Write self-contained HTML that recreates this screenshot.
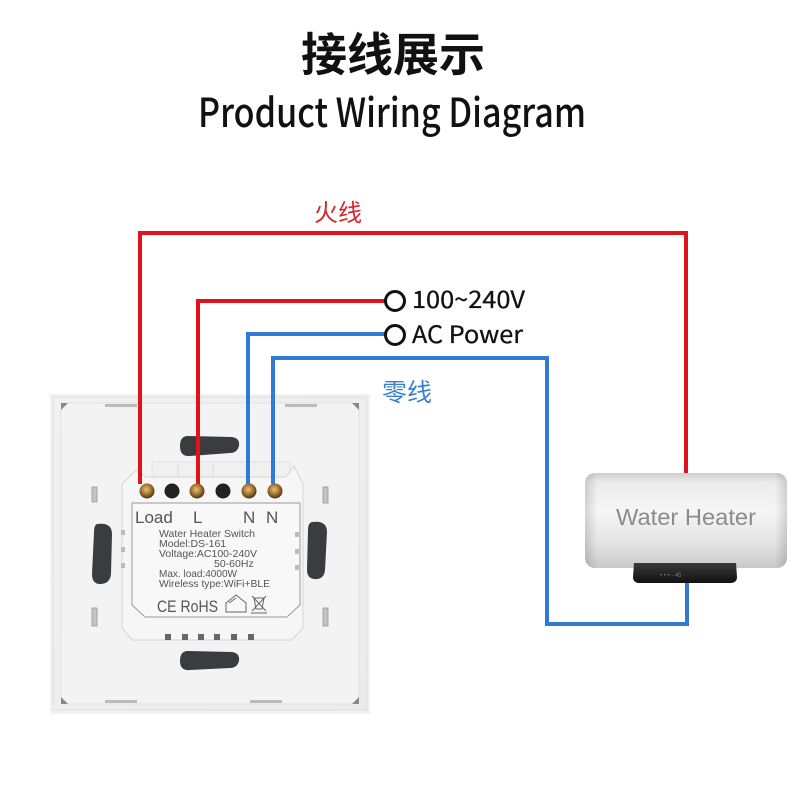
<!DOCTYPE html>
<html><head><meta charset="utf-8">
<style>
html,body{margin:0;padding:0;background:#fff;}
svg{display:block;}
</style></head>
<body>
<svg width="800" height="800" viewBox="0 0 800 800" xmlns="http://www.w3.org/2000/svg">
<defs>
  <linearGradient id="plate" x1="0" y1="0" x2="1" y2="1">
    <stop offset="0" stop-color="#f1f1f1"/>
    <stop offset="1" stop-color="#ebebeb"/>
  </linearGradient>
  <linearGradient id="heater" x1="0" y1="0" x2="0" y2="1">
    <stop offset="0" stop-color="#cfcfcf"/>
    <stop offset="0.1" stop-color="#ebebeb"/>
    <stop offset="0.4" stop-color="#f6f6f6"/>
    <stop offset="0.75" stop-color="#e2e2e2"/>
    <stop offset="1" stop-color="#c9c9c9"/>
  </linearGradient>
  <linearGradient id="heaterSide" x1="0" y1="0" x2="1" y2="0">
    <stop offset="0" stop-color="#000" stop-opacity="0.14"/>
    <stop offset="0.06" stop-color="#000" stop-opacity="0"/>
    <stop offset="0.94" stop-color="#000" stop-opacity="0"/>
    <stop offset="1" stop-color="#000" stop-opacity="0.14"/>
  </linearGradient>
  <radialGradient id="brass" cx="0.45" cy="0.4" r="0.6">
    <stop offset="0" stop-color="#e8c27a"/>
    <stop offset="0.6" stop-color="#9a6e2e"/>
    <stop offset="1" stop-color="#4a3214"/>
  </radialGradient>
  <linearGradient id="disp" x1="0" y1="0" x2="0" y2="1">
    <stop offset="0" stop-color="#3a3a3a"/>
    <stop offset="1" stop-color="#111"/>
  </linearGradient>
</defs>

<!-- Titles -->
<text x="393" y="71" text-anchor="middle" font-family="'Noto Sans CJK SC','WenQuanYi Zen Hei',sans-serif" font-weight="bold" font-size="46" fill="#111">接线展示</text>
<text x="198" y="127" font-family="'Noto Sans CJK SC','Liberation Sans',sans-serif" font-weight="500" font-size="40" fill="#111" textLength="388" lengthAdjust="spacingAndGlyphs">Product Wiring Diagram</text>

<!-- Switch plate -->
<rect x="50" y="394" width="320" height="320" fill="#e6e6e6" opacity="0.5"/>
<rect x="53" y="397" width="314" height="313" fill="url(#plate)" stroke="#dedede" stroke-width="1"/>
<rect x="61" y="403" width="298" height="301" rx="8" fill="#f3f3f3" stroke="#e2e2e2" stroke-width="1"/>
<!-- corner marks -->
<path d="M61,403 L68,403 L61,410 Z" fill="#888"/>
<path d="M359,403 L352,403 L359,410 Z" fill="#888"/>
<path d="M61,704 L68,704 L61,697 Z" fill="#888"/>
<path d="M359,704 L352,704 L359,697 Z" fill="#888"/>
<!-- edge marks -->
<rect x="105" y="404" width="32" height="3" fill="#bbb"/>
<rect x="285" y="404" width="32" height="3" fill="#bbb"/>
<rect x="105" y="700" width="32" height="3" fill="#bbb"/>
<rect x="250" y="700" width="32" height="3" fill="#bbb"/>
<rect x="92" y="487" width="5" height="15" fill="#c4c4c4" stroke="#999" stroke-width="0.8"/>
<rect x="92" y="608" width="5" height="18" fill="#c4c4c4" stroke="#999" stroke-width="0.8"/>
<rect x="323" y="487" width="5" height="16" fill="#c4c4c4" stroke="#999" stroke-width="0.8"/>
<rect x="323" y="608" width="5" height="18" fill="#c4c4c4" stroke="#999" stroke-width="0.8"/>
<!-- slots -->
<path d="M188,436 L232,437 Q240,438 239,446 Q237,453 230,453 L190,456 Q180,457 180,446 Q180,436 188,436 Z" fill="#3a3c3f"/>
<path d="M188,651 L232,652 Q240,653 239,661 Q237,668 230,668 L190,670 Q180,671 180,661 Q180,651 188,651 Z" fill="#3a3c3f"/>
<path d="M97,524 Q112,522 112,534 L111,574 Q110,584 100,584 Q92,584 92,574 L94,533 Q94,525 97,524 Z" fill="#3a3c3f"/>
<path d="M312,522 Q327,520 327,532 L325,570 Q324,580 314,579 Q307,578 307,570 L308,530 Q308,523 312,522 Z" fill="#3a3c3f"/>

<!-- Module -->
<rect x="152" y="462" width="138" height="20" fill="#f0f0f0" stroke="#ddd" stroke-width="0.8"/>
<line x1="178" y1="464" x2="178" y2="482" stroke="#ddd"/>
<line x1="213" y1="464" x2="213" y2="482" stroke="#ddd"/>
<line x1="246" y1="464" x2="246" y2="482" stroke="#ddd"/>
<path d="M122,484 L136,470 L146,477 L286,477 L294,466 L303,484 L303,628 L292,640 L132,640 L122,628 Z" fill="#f6f6f6" stroke="#d4d4d4" stroke-width="1"/>
<path d="M132,503 L300,503 L300,605 L287,617 L145,617 L132,605 Z" fill="#f8f8f8" stroke="#9a9a9a" stroke-width="1"/>
<!-- side vents -->
<rect x="121" y="530" width="4" height="5" fill="#bbb"/>
<rect x="121" y="547" width="4" height="5" fill="#bbb"/>
<rect x="121" y="563" width="4" height="5" fill="#bbb"/>
<rect x="295" y="532" width="4" height="5" fill="#bbb"/>
<rect x="295" y="549" width="4" height="5" fill="#bbb"/>
<rect x="295" y="565" width="4" height="5" fill="#bbb"/>
<!-- bottom vents -->
<rect x="165" y="634" width="6" height="6" fill="#666"/>
<rect x="182" y="634" width="6" height="6" fill="#666"/>
<rect x="198" y="634" width="6" height="6" fill="#666"/>
<rect x="214" y="634" width="6" height="6" fill="#666"/>
<rect x="231" y="634" width="6" height="6" fill="#666"/>
<rect x="248" y="634" width="6" height="6" fill="#666"/>

<!-- Wires -->
<g fill="none" stroke-width="4" stroke-linejoin="miter">
  <path d="M140,484 V233 H686 V474" stroke="#e0121b"/>
  <path d="M198,484 V301 H386" stroke="#e0121b"/>
  <path d="M248,484 V334 H386" stroke="#2e7ad6"/>
  <path d="M273,484 V358 H547 V624 H687 V583" stroke="#2e7ad6"/>
</g>

<!-- Terminals -->
<circle cx="147" cy="491" r="7.5" fill="url(#brass)"/>
<circle cx="172" cy="491" r="7.5" fill="#222"/>
<circle cx="197" cy="491" r="7.5" fill="url(#brass)"/>
<circle cx="223" cy="491" r="7.5" fill="#222"/>
<circle cx="249" cy="491" r="7.5" fill="url(#brass)"/>
<circle cx="275" cy="491" r="7.5" fill="url(#brass)"/>

<!-- Module labels -->
<g font-family="'Liberation Sans',sans-serif" fill="#555">
  <text x="135" y="523" font-size="17">Load</text>
  <text x="193" y="523" font-size="17">L</text>
  <text x="243" y="523" font-size="17">N</text>
  <text x="266" y="523" font-size="17">N</text>
  <text x="159" y="537" font-size="10.5" textLength="96" lengthAdjust="spacingAndGlyphs">Water Heater Switch</text>
  <text x="159" y="547" font-size="10.5">Model:DS-161</text>
  <text x="159" y="557" font-size="10.5" textLength="98" lengthAdjust="spacingAndGlyphs">Voltage:AC100-240V</text>
  <text x="214" y="567" font-size="10.5">50-60Hz</text>
  <text x="159" y="577" font-size="10.5" textLength="78" lengthAdjust="spacingAndGlyphs">Max. load:4000W</text>
  <text x="159" y="587" font-size="10.5" textLength="111" lengthAdjust="spacingAndGlyphs">Wireless type:WiFi+BLE</text>
  <text x="157" y="612" font-size="17" textLength="61" lengthAdjust="spacingAndGlyphs">CE RoHS</text>
</g>
<path d="M226,612 L226,603 L236,595 L246,603 L246,612 Z M229,603 L236,598" fill="none" stroke="#666" stroke-width="1"/>
<path d="M252,596 L266,611 M266,596 L252,611 M254,598 L264,598 L262,609 L256,609 Z M251,613 L267,613" fill="none" stroke="#666" stroke-width="1"/>

<!-- Power terminals -->
<circle cx="395" cy="301" r="9.5" fill="#fff" stroke="#111" stroke-width="3"/>
<circle cx="395" cy="335" r="9.5" fill="#fff" stroke="#111" stroke-width="3"/>
<text x="412" y="308" font-family="'Noto Sans CJK SC','Liberation Sans',sans-serif" font-size="24" fill="#111" stroke="#111" stroke-width="0.3" textLength="113" lengthAdjust="spacingAndGlyphs">100~240V</text>
<text x="412" y="343" font-family="'Noto Sans CJK SC','Liberation Sans',sans-serif" font-size="24" fill="#111" stroke="#111" stroke-width="0.3" textLength="111" lengthAdjust="spacingAndGlyphs">AC Power</text>

<text x="314" y="221" font-family="'Noto Sans CJK SC','WenQuanYi Zen Hei',sans-serif" font-size="24" fill="#d8262b">火线</text>
<text x="382" y="401" font-family="'Noto Sans CJK SC','WenQuanYi Zen Hei',sans-serif" font-size="25" fill="#3a80d0">零线</text>

<!-- Water heater -->
<rect x="585" y="473" width="202" height="95" rx="10" fill="url(#heater)"/>
<rect x="585" y="473" width="202" height="95" rx="10" fill="url(#heaterSide)"/>
<text x="686" y="525" text-anchor="middle" font-family="'Liberation Sans',sans-serif" font-size="23" fill="#8c8c8c" textLength="140" lengthAdjust="spacingAndGlyphs">Water Heater</text>
<path d="M634,563 L736,563 L737,577 Q737,583 730,583 L640,583 Q633,583 633,577 Z" fill="url(#disp)"/>
<text x="660" y="577" font-family="'Liberation Sans',sans-serif" font-size="6" fill="#777">• • •  - 45 ·  · ·</text>
</svg>
</body></html>
